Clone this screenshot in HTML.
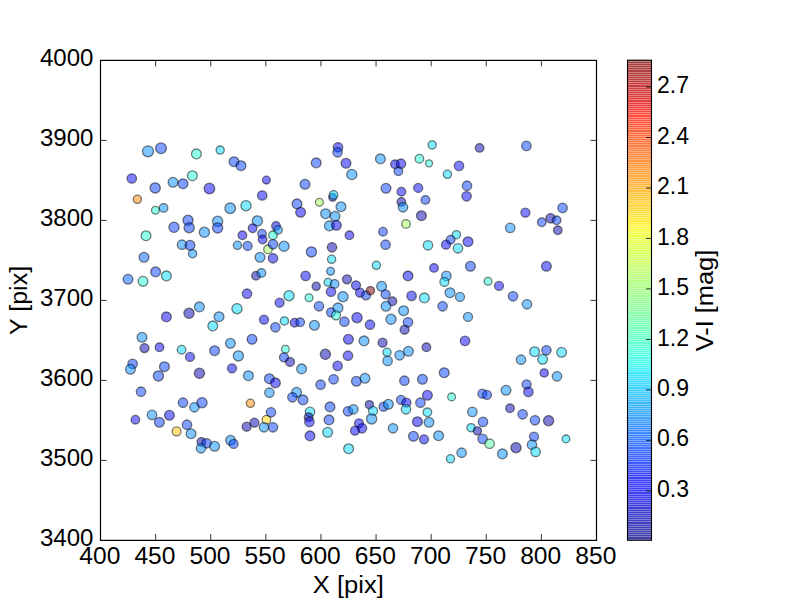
<!DOCTYPE html>
<html><head><meta charset="utf-8"><style>
html,body{margin:0;padding:0;background:#fff;width:800px;height:600px;overflow:hidden}
svg{display:block}
text{font-family:"Liberation Sans",sans-serif;font-size:23px;fill:#000}
</style></head><body>
<svg width="800" height="600" viewBox="0 0 800 600">
<defs>
<linearGradient id="jet" x1="0" y1="1" x2="0" y2="0">
<stop offset="0.00" stop-color="rgb(0, 0, 128)"/>
<stop offset="0.02" stop-color="rgb(0, 0, 151)"/>
<stop offset="0.04" stop-color="rgb(0, 0, 174)"/>
<stop offset="0.06" stop-color="rgb(0, 0, 197)"/>
<stop offset="0.08" stop-color="rgb(0, 0, 220)"/>
<stop offset="0.10" stop-color="rgb(0, 0, 243)"/>
<stop offset="0.12" stop-color="rgb(0, 0, 255)"/>
<stop offset="0.14" stop-color="rgb(0, 15, 255)"/>
<stop offset="0.16" stop-color="rgb(0, 36, 255)"/>
<stop offset="0.18" stop-color="rgb(0, 56, 255)"/>
<stop offset="0.20" stop-color="rgb(0, 77, 255)"/>
<stop offset="0.22" stop-color="rgb(0, 97, 255)"/>
<stop offset="0.24" stop-color="rgb(0, 117, 255)"/>
<stop offset="0.26" stop-color="rgb(0, 138, 255)"/>
<stop offset="0.28" stop-color="rgb(0, 158, 255)"/>
<stop offset="0.30" stop-color="rgb(0, 178, 255)"/>
<stop offset="0.32" stop-color="rgb(0, 199, 255)"/>
<stop offset="0.34" stop-color="rgb(0, 219, 255)"/>
<stop offset="0.36" stop-color="rgb(8, 240, 239)"/>
<stop offset="0.38" stop-color="rgb(25, 255, 222)"/>
<stop offset="0.40" stop-color="rgb(41, 255, 206)"/>
<stop offset="0.42" stop-color="rgb(58, 255, 189)"/>
<stop offset="0.44" stop-color="rgb(74, 255, 173)"/>
<stop offset="0.46" stop-color="rgb(90, 255, 156)"/>
<stop offset="0.48" stop-color="rgb(107, 255, 140)"/>
<stop offset="0.50" stop-color="rgb(123, 255, 123)"/>
<stop offset="0.52" stop-color="rgb(140, 255, 107)"/>
<stop offset="0.54" stop-color="rgb(156, 255, 90)"/>
<stop offset="0.56" stop-color="rgb(173, 255, 74)"/>
<stop offset="0.58" stop-color="rgb(189, 255, 58)"/>
<stop offset="0.60" stop-color="rgb(206, 255, 41)"/>
<stop offset="0.62" stop-color="rgb(222, 255, 25)"/>
<stop offset="0.64" stop-color="rgb(239, 255, 8)"/>
<stop offset="0.66" stop-color="rgb(255, 236, 0)"/>
<stop offset="0.68" stop-color="rgb(255, 217, 0)"/>
<stop offset="0.70" stop-color="rgb(255, 198, 0)"/>
<stop offset="0.72" stop-color="rgb(255, 179, 0)"/>
<stop offset="0.74" stop-color="rgb(255, 161, 0)"/>
<stop offset="0.76" stop-color="rgb(255, 142, 0)"/>
<stop offset="0.78" stop-color="rgb(255, 123, 0)"/>
<stop offset="0.80" stop-color="rgb(255, 104, 0)"/>
<stop offset="0.82" stop-color="rgb(255, 85, 0)"/>
<stop offset="0.84" stop-color="rgb(255, 66, 0)"/>
<stop offset="0.86" stop-color="rgb(255, 47, 0)"/>
<stop offset="0.88" stop-color="rgb(255, 28, 0)"/>
<stop offset="0.90" stop-color="rgb(243, 9, 0)"/>
<stop offset="0.92" stop-color="rgb(220, 0, 0)"/>
<stop offset="0.94" stop-color="rgb(197, 0, 0)"/>
<stop offset="0.96" stop-color="rgb(174, 0, 0)"/>
<stop offset="0.98" stop-color="rgb(151, 0, 0)"/>
<stop offset="1.00" stop-color="rgb(128, 0, 0)"/>
</linearGradient>
<pattern id="stripes" width="24" height="2.95" patternUnits="userSpaceOnUse" y="0">
<rect x="0" y="0" width="24" height="0.9" fill="#000" fill-opacity="0.10"/>
</pattern>
</defs>
<rect width="800" height="600" fill="#fff"/>
<g fill-opacity="0.5" stroke="#000" stroke-opacity="0.5" stroke-width="1.3">
<circle cx="148.0" cy="151.3" r="5.50" fill="rgb(0, 140, 255)"/>
<circle cx="161.0" cy="148.3" r="5.40" fill="rgb(0, 62, 255)"/>
<circle cx="196.4" cy="153.9" r="4.90" fill="rgb(34, 255, 213)"/>
<circle cx="220.2" cy="150.1" r="4.10" fill="rgb(0, 218, 255)"/>
<circle cx="234.0" cy="161.7" r="4.90" fill="rgb(0, 62, 255)"/>
<circle cx="241.0" cy="165.7" r="4.90" fill="rgb(0, 62, 255)"/>
<circle cx="131.8" cy="178.5" r="4.70" fill="rgb(0, 0, 249)"/>
<circle cx="266.4" cy="180.1" r="3.90" fill="rgb(0, 0, 249)"/>
<circle cx="192.4" cy="175.7" r="4.90" fill="rgb(34, 255, 213)"/>
<circle cx="173.0" cy="182.3" r="4.90" fill="rgb(0, 140, 255)"/>
<circle cx="183.0" cy="183.7" r="4.90" fill="rgb(0, 62, 255)"/>
<circle cx="155.2" cy="187.9" r="5.10" fill="rgb(0, 62, 255)"/>
<circle cx="209.4" cy="188.5" r="5.30" fill="rgb(0, 0, 249)"/>
<circle cx="262.2" cy="195.5" r="4.70" fill="rgb(0, 0, 249)"/>
<circle cx="137.4" cy="199.3" r="4.10" fill="rgb(255, 133, 0)"/>
<circle cx="155.4" cy="210.3" r="3.90" fill="rgb(34, 255, 213)"/>
<circle cx="163.6" cy="207.9" r="4.30" fill="rgb(0, 140, 255)"/>
<circle cx="230.2" cy="208.3" r="5.30" fill="rgb(0, 140, 255)"/>
<circle cx="246.0" cy="205.7" r="5.10" fill="rgb(0, 218, 255)"/>
<circle cx="188.0" cy="220.3" r="5.10" fill="rgb(0, 62, 255)"/>
<circle cx="189.2" cy="227.7" r="5.10" fill="rgb(0, 62, 255)"/>
<circle cx="174.0" cy="227.3" r="5.10" fill="rgb(0, 62, 255)"/>
<circle cx="204.4" cy="232.3" r="5.10" fill="rgb(0, 140, 255)"/>
<circle cx="217.6" cy="221.3" r="5.10" fill="rgb(0, 140, 255)"/>
<circle cx="217.6" cy="227.9" r="5.10" fill="rgb(0, 62, 255)"/>
<circle cx="257.4" cy="220.9" r="5.10" fill="rgb(0, 140, 255)"/>
<circle cx="252.6" cy="228.3" r="4.30" fill="rgb(0, 0, 249)"/>
<circle cx="242.4" cy="235.3" r="4.30" fill="rgb(0, 0, 249)"/>
<circle cx="262.0" cy="233.7" r="4.30" fill="rgb(0, 62, 255)"/>
<circle cx="146.0" cy="235.7" r="4.90" fill="rgb(34, 255, 213)"/>
<circle cx="338.0" cy="147.3" r="4.70" fill="rgb(0, 0, 249)"/>
<circle cx="337.6" cy="152.3" r="4.70" fill="rgb(0, 62, 255)"/>
<circle cx="316.2" cy="162.9" r="4.90" fill="rgb(0, 62, 255)"/>
<circle cx="346.0" cy="163.3" r="4.90" fill="rgb(0, 0, 249)"/>
<circle cx="351.8" cy="174.5" r="5.10" fill="rgb(0, 140, 255)"/>
<circle cx="305.0" cy="184.3" r="4.90" fill="rgb(0, 62, 255)"/>
<circle cx="380.4" cy="158.9" r="4.90" fill="rgb(0, 140, 255)"/>
<circle cx="395.0" cy="164.3" r="4.30" fill="rgb(0, 0, 249)"/>
<circle cx="401.0" cy="163.7" r="4.70" fill="rgb(0, 0, 249)"/>
<circle cx="398.4" cy="171.3" r="4.30" fill="rgb(0, 62, 255)"/>
<circle cx="419.4" cy="158.7" r="4.30" fill="rgb(34, 255, 213)"/>
<circle cx="386.0" cy="188.3" r="4.90" fill="rgb(0, 62, 255)"/>
<circle cx="401.4" cy="191.7" r="4.30" fill="rgb(0, 0, 249)"/>
<circle cx="418.2" cy="187.9" r="4.50" fill="rgb(0, 0, 249)"/>
<circle cx="401.4" cy="201.9" r="4.30" fill="rgb(0, 0, 176)"/>
<circle cx="403.0" cy="207.3" r="4.70" fill="rgb(0, 140, 255)"/>
<circle cx="421.4" cy="215.7" r="4.90" fill="rgb(0, 0, 176)"/>
<circle cx="406.0" cy="223.9" r="4.30" fill="rgb(158, 255, 89)"/>
<circle cx="383.0" cy="231.7" r="4.30" fill="rgb(0, 62, 255)"/>
<circle cx="349.4" cy="235.3" r="4.30" fill="rgb(0, 0, 249)"/>
<circle cx="332.6" cy="197.3" r="3.90" fill="rgb(0, 0, 176)"/>
<circle cx="333.6" cy="194.9" r="4.30" fill="rgb(0, 218, 255)"/>
<circle cx="319.4" cy="202.3" r="3.90" fill="rgb(158, 255, 89)"/>
<circle cx="297.0" cy="203.9" r="4.90" fill="rgb(0, 62, 255)"/>
<circle cx="300.6" cy="212.3" r="4.90" fill="rgb(0, 0, 249)"/>
<circle cx="341.0" cy="206.7" r="4.90" fill="rgb(0, 140, 255)"/>
<circle cx="325.6" cy="213.7" r="4.90" fill="rgb(0, 140, 255)"/>
<circle cx="335.0" cy="216.3" r="4.90" fill="rgb(0, 140, 255)"/>
<circle cx="329.4" cy="225.9" r="4.90" fill="rgb(0, 140, 255)"/>
<circle cx="336.4" cy="225.3" r="4.90" fill="rgb(0, 0, 249)"/>
<circle cx="276.0" cy="225.9" r="4.30" fill="rgb(0, 0, 249)"/>
<circle cx="278.0" cy="229.9" r="4.30" fill="rgb(0, 140, 255)"/>
<circle cx="273.0" cy="235.3" r="4.30" fill="rgb(34, 255, 213)"/>
<circle cx="432.2" cy="144.9" r="4.10" fill="rgb(0, 218, 255)"/>
<circle cx="479.6" cy="147.9" r="4.30" fill="rgb(0, 0, 176)"/>
<circle cx="526.4" cy="145.9" r="4.70" fill="rgb(0, 62, 255)"/>
<circle cx="429.0" cy="163.3" r="3.50" fill="rgb(34, 255, 213)"/>
<circle cx="459.0" cy="165.9" r="4.70" fill="rgb(0, 0, 249)"/>
<circle cx="447.4" cy="174.3" r="4.10" fill="rgb(0, 218, 255)"/>
<circle cx="467.0" cy="185.7" r="4.70" fill="rgb(0, 62, 255)"/>
<circle cx="466.6" cy="196.3" r="4.70" fill="rgb(0, 0, 249)"/>
<circle cx="425.4" cy="199.9" r="4.30" fill="rgb(0, 62, 255)"/>
<circle cx="525.4" cy="212.7" r="4.50" fill="rgb(0, 0, 249)"/>
<circle cx="562.6" cy="207.9" r="4.70" fill="rgb(0, 62, 255)"/>
<circle cx="510.2" cy="227.9" r="4.70" fill="rgb(0, 140, 255)"/>
<circle cx="541.8" cy="222.3" r="4.30" fill="rgb(0, 62, 255)"/>
<circle cx="550.6" cy="218.3" r="4.70" fill="rgb(0, 0, 176)"/>
<circle cx="556.6" cy="220.3" r="4.30" fill="rgb(0, 62, 255)"/>
<circle cx="557.8" cy="230.3" r="4.30" fill="rgb(0, 0, 176)"/>
<circle cx="456.4" cy="234.7" r="4.10" fill="rgb(0, 218, 255)"/>
<circle cx="262.6" cy="239.5" r="4.30" fill="rgb(0, 0, 249)"/>
<circle cx="182.0" cy="244.7" r="4.70" fill="rgb(0, 140, 255)"/>
<circle cx="190.0" cy="245.3" r="4.90" fill="rgb(0, 62, 255)"/>
<circle cx="192.6" cy="253.7" r="4.10" fill="rgb(0, 140, 255)"/>
<circle cx="237.4" cy="245.3" r="4.10" fill="rgb(0, 140, 255)"/>
<circle cx="247.6" cy="245.9" r="4.50" fill="rgb(0, 62, 255)"/>
<circle cx="268.0" cy="249.3" r="4.30" fill="rgb(158, 255, 89)"/>
<circle cx="260.0" cy="257.3" r="4.90" fill="rgb(0, 140, 255)"/>
<circle cx="144.0" cy="257.3" r="4.90" fill="rgb(0, 94, 255)"/>
<circle cx="155.6" cy="271.9" r="4.90" fill="rgb(0, 62, 255)"/>
<circle cx="166.4" cy="275.9" r="4.90" fill="rgb(0, 218, 255)"/>
<circle cx="128.0" cy="279.3" r="4.90" fill="rgb(0, 94, 255)"/>
<circle cx="143.0" cy="281.3" r="4.90" fill="rgb(34, 255, 213)"/>
<circle cx="256.0" cy="275.7" r="4.30" fill="rgb(0, 0, 176)"/>
<circle cx="261.4" cy="272.9" r="4.30" fill="rgb(0, 140, 255)"/>
<circle cx="247.0" cy="293.7" r="4.70" fill="rgb(0, 0, 249)"/>
<circle cx="199.4" cy="306.9" r="4.90" fill="rgb(0, 140, 255)"/>
<circle cx="189.0" cy="313.3" r="5.10" fill="rgb(0, 0, 176)"/>
<circle cx="166.4" cy="316.9" r="4.90" fill="rgb(0, 0, 249)"/>
<circle cx="219.0" cy="316.7" r="4.90" fill="rgb(0, 140, 255)"/>
<circle cx="212.8" cy="325.9" r="4.90" fill="rgb(0, 218, 255)"/>
<circle cx="237.0" cy="308.7" r="5.10" fill="rgb(0, 218, 255)"/>
<circle cx="264.0" cy="319.7" r="4.50" fill="rgb(0, 0, 249)"/>
<circle cx="142.0" cy="337.3" r="4.90" fill="rgb(0, 140, 255)"/>
<circle cx="230.4" cy="343.3" r="4.90" fill="rgb(0, 140, 255)"/>
<circle cx="252.0" cy="339.3" r="4.90" fill="rgb(0, 62, 255)"/>
<circle cx="273.0" cy="244.3" r="4.70" fill="rgb(0, 62, 255)"/>
<circle cx="273.0" cy="258.3" r="4.70" fill="rgb(0, 0, 249)"/>
<circle cx="284.0" cy="246.3" r="5.10" fill="rgb(0, 140, 255)"/>
<circle cx="311.4" cy="251.9" r="5.10" fill="rgb(0, 62, 255)"/>
<circle cx="332.0" cy="247.3" r="4.70" fill="rgb(0, 0, 176)"/>
<circle cx="331.6" cy="259.3" r="4.10" fill="rgb(0, 218, 255)"/>
<circle cx="330.6" cy="271.3" r="3.90" fill="rgb(0, 140, 255)"/>
<circle cx="385.6" cy="244.7" r="4.70" fill="rgb(0, 62, 255)"/>
<circle cx="376.4" cy="265.3" r="4.10" fill="rgb(0, 218, 255)"/>
<circle cx="408.0" cy="275.9" r="4.90" fill="rgb(0, 0, 249)"/>
<circle cx="305.6" cy="275.9" r="4.70" fill="rgb(0, 0, 249)"/>
<circle cx="316.2" cy="286.3" r="4.10" fill="rgb(0, 0, 176)"/>
<circle cx="328.0" cy="282.3" r="3.90" fill="rgb(0, 218, 255)"/>
<circle cx="334.6" cy="283.9" r="4.30" fill="rgb(0, 140, 255)"/>
<circle cx="331.0" cy="291.7" r="4.70" fill="rgb(0, 0, 249)"/>
<circle cx="347.0" cy="279.3" r="4.50" fill="rgb(0, 0, 176)"/>
<circle cx="356.0" cy="285.3" r="4.50" fill="rgb(0, 0, 249)"/>
<circle cx="360.0" cy="292.7" r="4.50" fill="rgb(0, 0, 249)"/>
<circle cx="366.0" cy="295.3" r="4.50" fill="rgb(0, 62, 255)"/>
<circle cx="370.4" cy="290.7" r="4.10" fill="rgb(128, 0, 0)"/>
<circle cx="381.6" cy="286.3" r="4.90" fill="rgb(0, 140, 255)"/>
<circle cx="385.6" cy="294.3" r="4.50" fill="rgb(0, 62, 255)"/>
<circle cx="392.4" cy="301.3" r="4.30" fill="rgb(0, 0, 176)"/>
<circle cx="411.6" cy="295.9" r="4.70" fill="rgb(0, 0, 249)"/>
<circle cx="289.0" cy="295.7" r="5.10" fill="rgb(0, 218, 255)"/>
<circle cx="309.0" cy="297.7" r="3.90" fill="rgb(34, 255, 213)"/>
<circle cx="279.6" cy="302.7" r="4.50" fill="rgb(0, 0, 249)"/>
<circle cx="319.0" cy="306.3" r="4.70" fill="rgb(0, 62, 255)"/>
<circle cx="343.0" cy="296.7" r="5.10" fill="rgb(0, 140, 255)"/>
<circle cx="331.0" cy="312.3" r="4.50" fill="rgb(0, 62, 255)"/>
<circle cx="338.0" cy="307.9" r="4.90" fill="rgb(0, 140, 255)"/>
<circle cx="336.0" cy="315.3" r="4.50" fill="rgb(34, 255, 213)"/>
<circle cx="344.4" cy="321.7" r="4.70" fill="rgb(0, 62, 255)"/>
<circle cx="357.0" cy="317.7" r="5.10" fill="rgb(0, 0, 249)"/>
<circle cx="386.0" cy="306.3" r="4.90" fill="rgb(0, 140, 255)"/>
<circle cx="403.6" cy="310.7" r="4.90" fill="rgb(0, 140, 255)"/>
<circle cx="391.0" cy="319.3" r="5.10" fill="rgb(0, 140, 255)"/>
<circle cx="408.0" cy="322.3" r="4.70" fill="rgb(0, 62, 255)"/>
<circle cx="404.6" cy="329.7" r="4.50" fill="rgb(0, 0, 176)"/>
<circle cx="370.0" cy="324.7" r="4.70" fill="rgb(0, 0, 249)"/>
<circle cx="275.4" cy="327.3" r="4.70" fill="rgb(0, 62, 255)"/>
<circle cx="284.4" cy="320.9" r="4.10" fill="rgb(0, 218, 255)"/>
<circle cx="294.6" cy="322.7" r="4.30" fill="rgb(0, 0, 249)"/>
<circle cx="300.2" cy="322.3" r="4.30" fill="rgb(0, 62, 255)"/>
<circle cx="314.4" cy="325.3" r="4.90" fill="rgb(0, 140, 255)"/>
<circle cx="348.4" cy="339.3" r="4.90" fill="rgb(0, 0, 249)"/>
<circle cx="364.0" cy="340.9" r="4.90" fill="rgb(0, 140, 255)"/>
<circle cx="382.6" cy="342.7" r="4.50" fill="rgb(0, 0, 176)"/>
<circle cx="450.6" cy="239.7" r="4.30" fill="rgb(0, 62, 255)"/>
<circle cx="446.0" cy="244.7" r="4.50" fill="rgb(0, 0, 249)"/>
<circle cx="458.0" cy="248.3" r="4.70" fill="rgb(0, 218, 255)"/>
<circle cx="468.0" cy="241.7" r="4.90" fill="rgb(0, 0, 249)"/>
<circle cx="428.0" cy="245.3" r="4.70" fill="rgb(0, 218, 255)"/>
<circle cx="434.0" cy="267.9" r="4.30" fill="rgb(0, 0, 249)"/>
<circle cx="470.4" cy="266.3" r="4.90" fill="rgb(0, 62, 255)"/>
<circle cx="546.4" cy="266.3" r="4.90" fill="rgb(0, 0, 249)"/>
<circle cx="446.4" cy="275.9" r="4.70" fill="rgb(0, 140, 255)"/>
<circle cx="444.4" cy="281.9" r="4.50" fill="rgb(0, 218, 255)"/>
<circle cx="488.0" cy="281.3" r="3.90" fill="rgb(34, 255, 213)"/>
<circle cx="499.0" cy="285.9" r="4.50" fill="rgb(0, 0, 249)"/>
<circle cx="513.0" cy="296.3" r="4.70" fill="rgb(0, 62, 255)"/>
<circle cx="527.0" cy="304.3" r="4.70" fill="rgb(0, 140, 255)"/>
<circle cx="424.4" cy="297.9" r="4.90" fill="rgb(0, 218, 255)"/>
<circle cx="450.0" cy="292.7" r="4.90" fill="rgb(0, 140, 255)"/>
<circle cx="460.0" cy="296.9" r="4.50" fill="rgb(0, 140, 255)"/>
<circle cx="442.6" cy="306.3" r="4.70" fill="rgb(0, 62, 255)"/>
<circle cx="468.0" cy="316.9" r="4.50" fill="rgb(0, 140, 255)"/>
<circle cx="465.0" cy="340.9" r="4.70" fill="rgb(0, 0, 249)"/>
<circle cx="181.6" cy="349.7" r="4.30" fill="rgb(0, 218, 255)"/>
<circle cx="190.0" cy="356.9" r="4.50" fill="rgb(0, 0, 249)"/>
<circle cx="214.6" cy="350.7" r="4.90" fill="rgb(0, 62, 255)"/>
<circle cx="238.4" cy="355.9" r="5.10" fill="rgb(0, 140, 255)"/>
<circle cx="132.6" cy="363.9" r="4.70" fill="rgb(0, 62, 255)"/>
<circle cx="130.4" cy="369.3" r="4.90" fill="rgb(0, 140, 255)"/>
<circle cx="164.4" cy="366.7" r="4.90" fill="rgb(0, 62, 255)"/>
<circle cx="158.4" cy="375.9" r="5.10" fill="rgb(0, 62, 255)"/>
<circle cx="199.4" cy="373.3" r="5.10" fill="rgb(0, 0, 176)"/>
<circle cx="232.0" cy="368.3" r="4.50" fill="rgb(0, 0, 249)"/>
<circle cx="248.4" cy="375.7" r="4.90" fill="rgb(0, 140, 255)"/>
<circle cx="269.4" cy="378.7" r="4.90" fill="rgb(0, 62, 255)"/>
<circle cx="269.4" cy="392.7" r="4.70" fill="rgb(0, 140, 255)"/>
<circle cx="141.0" cy="391.7" r="4.70" fill="rgb(0, 62, 255)"/>
<circle cx="183.0" cy="402.7" r="4.70" fill="rgb(0, 62, 255)"/>
<circle cx="194.4" cy="407.3" r="4.70" fill="rgb(0, 140, 255)"/>
<circle cx="202.0" cy="402.7" r="5.10" fill="rgb(0, 62, 255)"/>
<circle cx="250.4" cy="403.3" r="4.10" fill="rgb(255, 133, 0)"/>
<circle cx="135.4" cy="419.7" r="4.30" fill="rgb(0, 0, 249)"/>
<circle cx="152.0" cy="414.9" r="4.70" fill="rgb(0, 140, 255)"/>
<circle cx="159.4" cy="422.3" r="4.90" fill="rgb(0, 62, 255)"/>
<circle cx="169.4" cy="415.3" r="4.90" fill="rgb(0, 0, 249)"/>
<circle cx="176.6" cy="431.3" r="4.50" fill="rgb(255, 192, 0)"/>
<circle cx="187.0" cy="424.7" r="4.70" fill="rgb(0, 62, 255)"/>
<circle cx="191.0" cy="433.7" r="4.90" fill="rgb(0, 140, 255)"/>
<circle cx="201.4" cy="441.9" r="4.30" fill="rgb(0, 0, 176)"/>
<circle cx="206.6" cy="443.3" r="4.70" fill="rgb(0, 62, 255)"/>
<circle cx="201.0" cy="448.3" r="4.70" fill="rgb(0, 140, 255)"/>
<circle cx="214.6" cy="446.3" r="4.90" fill="rgb(0, 140, 255)"/>
<circle cx="230.6" cy="440.3" r="4.90" fill="rgb(0, 140, 255)"/>
<circle cx="233.6" cy="443.9" r="4.50" fill="rgb(0, 62, 255)"/>
<circle cx="246.6" cy="426.7" r="4.50" fill="rgb(0, 0, 176)"/>
<circle cx="254.4" cy="422.7" r="4.50" fill="rgb(0, 0, 176)"/>
<circle cx="266.4" cy="419.7" r="4.30" fill="rgb(255, 216, 0)"/>
<circle cx="264.0" cy="427.3" r="4.70" fill="rgb(0, 140, 255)"/>
<circle cx="285.4" cy="349.3" r="3.90" fill="rgb(34, 255, 213)"/>
<circle cx="284.0" cy="357.3" r="4.50" fill="rgb(0, 62, 255)"/>
<circle cx="290.0" cy="361.9" r="4.50" fill="rgb(0, 0, 176)"/>
<circle cx="301.6" cy="368.9" r="4.90" fill="rgb(0, 140, 255)"/>
<circle cx="325.4" cy="354.3" r="5.10" fill="rgb(0, 0, 176)"/>
<circle cx="348.0" cy="355.7" r="4.70" fill="rgb(0, 0, 249)"/>
<circle cx="337.6" cy="365.9" r="4.70" fill="rgb(0, 0, 249)"/>
<circle cx="387.0" cy="352.3" r="4.10" fill="rgb(0, 218, 255)"/>
<circle cx="387.6" cy="360.9" r="4.70" fill="rgb(0, 140, 255)"/>
<circle cx="399.6" cy="355.3" r="4.70" fill="rgb(0, 140, 255)"/>
<circle cx="408.4" cy="351.3" r="4.90" fill="rgb(0, 140, 255)"/>
<circle cx="275.4" cy="382.9" r="4.90" fill="rgb(0, 0, 249)"/>
<circle cx="320.6" cy="384.7" r="4.70" fill="rgb(0, 62, 255)"/>
<circle cx="333.6" cy="379.3" r="4.70" fill="rgb(0, 62, 255)"/>
<circle cx="356.4" cy="381.3" r="4.90" fill="rgb(0, 62, 255)"/>
<circle cx="365.0" cy="378.3" r="4.90" fill="rgb(0, 140, 255)"/>
<circle cx="404.4" cy="380.7" r="4.70" fill="rgb(0, 62, 255)"/>
<circle cx="296.6" cy="392.3" r="4.90" fill="rgb(0, 140, 255)"/>
<circle cx="292.4" cy="397.3" r="4.70" fill="rgb(0, 62, 255)"/>
<circle cx="303.0" cy="399.9" r="4.90" fill="rgb(0, 62, 255)"/>
<circle cx="330.0" cy="406.9" r="4.90" fill="rgb(0, 62, 255)"/>
<circle cx="310.0" cy="411.9" r="4.70" fill="rgb(0, 218, 255)"/>
<circle cx="308.6" cy="417.3" r="4.30" fill="rgb(0, 0, 176)"/>
<circle cx="309.4" cy="421.9" r="4.70" fill="rgb(0, 0, 249)"/>
<circle cx="329.0" cy="419.9" r="4.90" fill="rgb(0, 62, 255)"/>
<circle cx="327.6" cy="432.3" r="4.90" fill="rgb(0, 218, 255)"/>
<circle cx="310.0" cy="435.9" r="4.90" fill="rgb(0, 0, 249)"/>
<circle cx="273.0" cy="427.3" r="4.70" fill="rgb(0, 62, 255)"/>
<circle cx="348.0" cy="411.3" r="4.70" fill="rgb(0, 62, 255)"/>
<circle cx="353.4" cy="409.3" r="4.70" fill="rgb(0, 140, 255)"/>
<circle cx="369.4" cy="404.7" r="4.10" fill="rgb(0, 0, 176)"/>
<circle cx="373.0" cy="410.9" r="4.50" fill="rgb(0, 218, 255)"/>
<circle cx="371.6" cy="418.9" r="5.10" fill="rgb(0, 140, 255)"/>
<circle cx="383.6" cy="406.7" r="4.50" fill="rgb(0, 62, 255)"/>
<circle cx="388.4" cy="404.3" r="4.90" fill="rgb(0, 140, 255)"/>
<circle cx="401.0" cy="399.9" r="4.50" fill="rgb(0, 62, 255)"/>
<circle cx="406.4" cy="402.7" r="4.50" fill="rgb(0, 0, 249)"/>
<circle cx="406.0" cy="409.3" r="4.70" fill="rgb(0, 218, 255)"/>
<circle cx="420.4" cy="402.7" r="4.70" fill="rgb(0, 62, 255)"/>
<circle cx="359.0" cy="423.3" r="4.50" fill="rgb(0, 0, 249)"/>
<circle cx="362.0" cy="428.3" r="4.70" fill="rgb(0, 0, 249)"/>
<circle cx="355.0" cy="430.7" r="4.50" fill="rgb(0, 0, 249)"/>
<circle cx="393.0" cy="428.3" r="4.70" fill="rgb(0, 140, 255)"/>
<circle cx="417.4" cy="421.7" r="4.90" fill="rgb(0, 0, 249)"/>
<circle cx="413.4" cy="436.3" r="4.90" fill="rgb(0, 62, 255)"/>
<circle cx="348.6" cy="448.7" r="4.90" fill="rgb(0, 218, 255)"/>
<circle cx="426.4" cy="347.3" r="4.30" fill="rgb(0, 0, 176)"/>
<circle cx="444.2" cy="372.7" r="4.90" fill="rgb(0, 62, 255)"/>
<circle cx="422.4" cy="379.3" r="4.90" fill="rgb(0, 62, 255)"/>
<circle cx="427.4" cy="395.3" r="4.90" fill="rgb(0, 0, 249)"/>
<circle cx="451.6" cy="396.9" r="3.90" fill="rgb(34, 255, 213)"/>
<circle cx="427.4" cy="412.3" r="4.30" fill="rgb(0, 218, 255)"/>
<circle cx="429.0" cy="422.3" r="4.90" fill="rgb(0, 140, 255)"/>
<circle cx="424.0" cy="439.3" r="4.50" fill="rgb(0, 0, 249)"/>
<circle cx="438.6" cy="435.7" r="4.90" fill="rgb(0, 140, 255)"/>
<circle cx="461.6" cy="452.7" r="4.70" fill="rgb(0, 140, 255)"/>
<circle cx="482.4" cy="393.7" r="4.50" fill="rgb(0, 62, 255)"/>
<circle cx="487.0" cy="394.9" r="4.50" fill="rgb(0, 62, 255)"/>
<circle cx="506.0" cy="390.3" r="4.90" fill="rgb(0, 140, 255)"/>
<circle cx="472.4" cy="411.9" r="4.70" fill="rgb(0, 140, 255)"/>
<circle cx="483.0" cy="421.9" r="4.70" fill="rgb(0, 62, 255)"/>
<circle cx="471.0" cy="427.7" r="4.10" fill="rgb(0, 218, 255)"/>
<circle cx="477.4" cy="430.9" r="4.10" fill="rgb(0, 0, 176)"/>
<circle cx="482.6" cy="438.9" r="4.70" fill="rgb(0, 62, 255)"/>
<circle cx="489.6" cy="443.7" r="4.70" fill="rgb(86, 255, 161)"/>
<circle cx="502.4" cy="453.9" r="4.90" fill="rgb(0, 140, 255)"/>
<circle cx="510.0" cy="408.3" r="4.30" fill="rgb(0, 0, 176)"/>
<circle cx="522.6" cy="414.3" r="4.70" fill="rgb(0, 62, 255)"/>
<circle cx="526.6" cy="384.3" r="4.50" fill="rgb(0, 62, 255)"/>
<circle cx="528.4" cy="391.9" r="4.70" fill="rgb(0, 0, 249)"/>
<circle cx="521.0" cy="359.7" r="4.70" fill="rgb(0, 140, 255)"/>
<circle cx="534.6" cy="351.7" r="4.90" fill="rgb(0, 218, 255)"/>
<circle cx="546.4" cy="350.3" r="4.70" fill="rgb(0, 62, 255)"/>
<circle cx="542.6" cy="359.3" r="4.90" fill="rgb(0, 218, 255)"/>
<circle cx="561.6" cy="352.3" r="4.90" fill="rgb(0, 218, 255)"/>
<circle cx="544.2" cy="372.9" r="4.10" fill="rgb(0, 0, 249)"/>
<circle cx="557.0" cy="376.3" r="4.70" fill="rgb(0, 140, 255)"/>
<circle cx="535.0" cy="420.3" r="4.70" fill="rgb(0, 62, 255)"/>
<circle cx="548.6" cy="420.7" r="5.10" fill="rgb(0, 0, 176)"/>
<circle cx="534.0" cy="436.7" r="4.50" fill="rgb(0, 62, 255)"/>
<circle cx="532.0" cy="444.7" r="4.70" fill="rgb(0, 140, 255)"/>
<circle cx="535.6" cy="451.9" r="4.70" fill="rgb(0, 218, 255)"/>
<circle cx="516.0" cy="447.7" r="5.10" fill="rgb(0, 0, 176)"/>
<circle cx="566.0" cy="438.9" r="3.90" fill="rgb(0, 218, 255)"/>
<circle cx="450.5" cy="458.8" r="4.10" fill="rgb(0, 218, 255)"/>
<circle cx="144.5" cy="348.1" r="4.50" fill="rgb(0, 0, 176)"/>
<circle cx="159.5" cy="347.3" r="4.30" fill="rgb(0, 0, 249)"/>
<circle cx="271.0" cy="412.3" r="4.70" fill="rgb(0, 62, 255)"/>
</g>
<g stroke="#000" stroke-width="1.2" fill="none">
<rect x="100.5" y="60.4" width="496" height="480"/>
</g>
<g stroke="#000" stroke-width="0.8" fill="none"><line x1="155.61" y1="540" x2="155.61" y2="534"/><line x1="155.61" y1="60.4" x2="155.61" y2="66.4"/><line x1="210.72" y1="540" x2="210.72" y2="534"/><line x1="210.72" y1="60.4" x2="210.72" y2="66.4"/><line x1="265.83" y1="540" x2="265.83" y2="534"/><line x1="265.83" y1="60.4" x2="265.83" y2="66.4"/><line x1="320.94" y1="540" x2="320.94" y2="534"/><line x1="320.94" y1="60.4" x2="320.94" y2="66.4"/><line x1="376.06" y1="540" x2="376.06" y2="534"/><line x1="376.06" y1="60.4" x2="376.06" y2="66.4"/><line x1="431.17" y1="540" x2="431.17" y2="534"/><line x1="431.17" y1="60.4" x2="431.17" y2="66.4"/><line x1="486.28" y1="540" x2="486.28" y2="534"/><line x1="486.28" y1="60.4" x2="486.28" y2="66.4"/><line x1="541.39" y1="540" x2="541.39" y2="534"/><line x1="541.39" y1="60.4" x2="541.39" y2="66.4"/><line x1="100.5" y1="460.40" x2="106.5" y2="460.40"/><line x1="596.5" y1="460.40" x2="590.5" y2="460.40"/><line x1="100.5" y1="380.40" x2="106.5" y2="380.40"/><line x1="596.5" y1="380.40" x2="590.5" y2="380.40"/><line x1="100.5" y1="300.40" x2="106.5" y2="300.40"/><line x1="596.5" y1="300.40" x2="590.5" y2="300.40"/><line x1="100.5" y1="220.40" x2="106.5" y2="220.40"/><line x1="596.5" y1="220.40" x2="590.5" y2="220.40"/><line x1="100.5" y1="140.40" x2="106.5" y2="140.40"/><line x1="596.5" y1="140.40" x2="590.5" y2="140.40"/></g>
<g fill-opacity="0.5" shape-rendering="crispEdges"><rect x="627" y="538" width="25" height="2" fill="rgb(0, 0, 128)"/><rect x="627" y="537" width="25" height="2" fill="rgb(0, 0, 132)"/><rect x="627" y="535" width="25" height="3" fill="rgb(0, 0, 137)"/><rect x="627" y="533" width="25" height="3" fill="rgb(0, 0, 141)"/><rect x="627" y="531" width="25" height="3" fill="rgb(0, 0, 146)"/><rect x="627" y="529" width="25" height="3" fill="rgb(0, 0, 150)"/><rect x="627" y="527" width="25" height="3" fill="rgb(0, 0, 155)"/><rect x="627" y="525" width="25" height="3" fill="rgb(0, 0, 159)"/><rect x="627" y="523" width="25" height="3" fill="rgb(0, 0, 164)"/><rect x="627" y="522" width="25" height="2" fill="rgb(0, 0, 168)"/><rect x="627" y="520" width="25" height="3" fill="rgb(0, 0, 173)"/><rect x="627" y="518" width="25" height="3" fill="rgb(0, 0, 178)"/><rect x="627" y="516" width="25" height="3" fill="rgb(0, 0, 182)"/><rect x="627" y="514" width="25" height="3" fill="rgb(0, 0, 187)"/><rect x="627" y="512" width="25" height="3" fill="rgb(0, 0, 191)"/><rect x="627" y="510" width="25" height="3" fill="rgb(0, 0, 196)"/><rect x="627" y="508" width="25" height="3" fill="rgb(0, 0, 200)"/><rect x="627" y="507" width="25" height="2" fill="rgb(0, 0, 205)"/><rect x="627" y="505" width="25" height="3" fill="rgb(0, 0, 209)"/><rect x="627" y="503" width="25" height="3" fill="rgb(0, 0, 214)"/><rect x="627" y="501" width="25" height="3" fill="rgb(0, 0, 218)"/><rect x="627" y="499" width="25" height="3" fill="rgb(0, 0, 223)"/><rect x="627" y="497" width="25" height="3" fill="rgb(0, 0, 227)"/><rect x="627" y="495" width="25" height="3" fill="rgb(0, 0, 232)"/><rect x="627" y="493" width="25" height="3" fill="rgb(0, 0, 237)"/><rect x="627" y="492" width="25" height="2" fill="rgb(0, 0, 241)"/><rect x="627" y="490" width="25" height="3" fill="rgb(0, 0, 246)"/><rect x="627" y="488" width="25" height="3" fill="rgb(0, 0, 250)"/><rect x="627" y="486" width="25" height="3" fill="rgb(0, 0, 255)"/><rect x="627" y="484" width="25" height="3" fill="rgb(0, 0, 255)"/><rect x="627" y="482" width="25" height="3" fill="rgb(0, 0, 255)"/><rect x="627" y="480" width="25" height="3" fill="rgb(0, 0, 255)"/><rect x="627" y="478" width="25" height="3" fill="rgb(0, 0, 255)"/><rect x="627" y="477" width="25" height="2" fill="rgb(0, 5, 255)"/><rect x="627" y="475" width="25" height="3" fill="rgb(0, 8, 255)"/><rect x="627" y="473" width="25" height="3" fill="rgb(0, 13, 255)"/><rect x="627" y="471" width="25" height="3" fill="rgb(0, 16, 255)"/><rect x="627" y="469" width="25" height="3" fill="rgb(0, 21, 255)"/><rect x="627" y="467" width="25" height="3" fill="rgb(0, 24, 255)"/><rect x="627" y="465" width="25" height="3" fill="rgb(0, 29, 255)"/><rect x="627" y="463" width="25" height="3" fill="rgb(0, 32, 255)"/><rect x="627" y="462" width="25" height="2" fill="rgb(0, 37, 255)"/><rect x="627" y="460" width="25" height="3" fill="rgb(0, 40, 255)"/><rect x="627" y="458" width="25" height="3" fill="rgb(0, 45, 255)"/><rect x="627" y="456" width="25" height="3" fill="rgb(0, 48, 255)"/><rect x="627" y="454" width="25" height="3" fill="rgb(0, 53, 255)"/><rect x="627" y="452" width="25" height="3" fill="rgb(0, 56, 255)"/><rect x="627" y="450" width="25" height="3" fill="rgb(0, 61, 255)"/><rect x="627" y="448" width="25" height="3" fill="rgb(0, 64, 255)"/><rect x="627" y="447" width="25" height="2" fill="rgb(0, 69, 255)"/><rect x="627" y="445" width="25" height="3" fill="rgb(0, 72, 255)"/><rect x="627" y="443" width="25" height="3" fill="rgb(0, 77, 255)"/><rect x="627" y="441" width="25" height="3" fill="rgb(0, 80, 255)"/><rect x="627" y="439" width="25" height="3" fill="rgb(0, 85, 255)"/><rect x="627" y="437" width="25" height="3" fill="rgb(0, 88, 255)"/><rect x="627" y="435" width="25" height="3" fill="rgb(0, 93, 255)"/><rect x="627" y="433" width="25" height="3" fill="rgb(0, 96, 255)"/><rect x="627" y="432" width="25" height="2" fill="rgb(0, 101, 255)"/><rect x="627" y="430" width="25" height="3" fill="rgb(0, 104, 255)"/><rect x="627" y="428" width="25" height="3" fill="rgb(0, 109, 255)"/><rect x="627" y="426" width="25" height="3" fill="rgb(0, 112, 255)"/><rect x="627" y="424" width="25" height="3" fill="rgb(0, 117, 255)"/><rect x="627" y="422" width="25" height="3" fill="rgb(0, 120, 255)"/><rect x="627" y="420" width="25" height="3" fill="rgb(0, 125, 255)"/><rect x="627" y="418" width="25" height="3" fill="rgb(0, 128, 255)"/><rect x="627" y="417" width="25" height="2" fill="rgb(0, 132, 255)"/><rect x="627" y="415" width="25" height="3" fill="rgb(0, 137, 255)"/><rect x="627" y="413" width="25" height="3" fill="rgb(0, 140, 255)"/><rect x="627" y="411" width="25" height="3" fill="rgb(0, 144, 255)"/><rect x="627" y="409" width="25" height="3" fill="rgb(0, 148, 255)"/><rect x="627" y="407" width="25" height="3" fill="rgb(0, 153, 255)"/><rect x="627" y="405" width="25" height="3" fill="rgb(0, 156, 255)"/><rect x="627" y="403" width="25" height="3" fill="rgb(0, 160, 255)"/><rect x="627" y="402" width="25" height="2" fill="rgb(0, 164, 255)"/><rect x="627" y="400" width="25" height="3" fill="rgb(0, 169, 255)"/><rect x="627" y="398" width="25" height="3" fill="rgb(0, 172, 255)"/><rect x="627" y="396" width="25" height="3" fill="rgb(0, 176, 255)"/><rect x="627" y="394" width="25" height="3" fill="rgb(0, 180, 255)"/><rect x="627" y="392" width="25" height="3" fill="rgb(0, 185, 255)"/><rect x="627" y="390" width="25" height="3" fill="rgb(0, 188, 255)"/><rect x="627" y="388" width="25" height="3" fill="rgb(0, 192, 255)"/><rect x="627" y="387" width="25" height="2" fill="rgb(0, 196, 255)"/><rect x="627" y="385" width="25" height="3" fill="rgb(0, 201, 255)"/><rect x="627" y="383" width="25" height="3" fill="rgb(0, 204, 255)"/><rect x="627" y="381" width="25" height="3" fill="rgb(0, 208, 255)"/><rect x="627" y="379" width="25" height="3" fill="rgb(0, 212, 255)"/><rect x="627" y="377" width="25" height="3" fill="rgb(0, 217, 255)"/><rect x="627" y="375" width="25" height="3" fill="rgb(0, 220, 254)"/><rect x="627" y="373" width="25" height="3" fill="rgb(0, 224, 251)"/><rect x="627" y="372" width="25" height="2" fill="rgb(0, 228, 248)"/><rect x="627" y="370" width="25" height="3" fill="rgb(2, 233, 244)"/><rect x="627" y="368" width="25" height="3" fill="rgb(6, 236, 241)"/><rect x="627" y="366" width="25" height="3" fill="rgb(9, 240, 238)"/><rect x="627" y="364" width="25" height="3" fill="rgb(12, 244, 235)"/><rect x="627" y="362" width="25" height="3" fill="rgb(15, 249, 231)"/><rect x="627" y="360" width="25" height="3" fill="rgb(19, 252, 228)"/><rect x="627" y="358" width="25" height="3" fill="rgb(22, 255, 225)"/><rect x="627" y="357" width="25" height="2" fill="rgb(25, 255, 222)"/><rect x="627" y="355" width="25" height="3" fill="rgb(28, 255, 219)"/><rect x="627" y="353" width="25" height="3" fill="rgb(31, 255, 215)"/><rect x="627" y="351" width="25" height="3" fill="rgb(35, 255, 212)"/><rect x="627" y="349" width="25" height="3" fill="rgb(38, 255, 209)"/><rect x="627" y="347" width="25" height="3" fill="rgb(41, 255, 206)"/><rect x="627" y="345" width="25" height="3" fill="rgb(44, 255, 202)"/><rect x="627" y="343" width="25" height="3" fill="rgb(48, 255, 199)"/><rect x="627" y="342" width="25" height="2" fill="rgb(51, 255, 196)"/><rect x="627" y="340" width="25" height="3" fill="rgb(54, 255, 193)"/><rect x="627" y="338" width="25" height="3" fill="rgb(57, 255, 190)"/><rect x="627" y="336" width="25" height="3" fill="rgb(60, 255, 186)"/><rect x="627" y="334" width="25" height="3" fill="rgb(64, 255, 183)"/><rect x="627" y="332" width="25" height="3" fill="rgb(67, 255, 180)"/><rect x="627" y="330" width="25" height="3" fill="rgb(70, 255, 177)"/><rect x="627" y="328" width="25" height="3" fill="rgb(73, 255, 173)"/><rect x="627" y="327" width="25" height="2" fill="rgb(77, 255, 170)"/><rect x="627" y="325" width="25" height="3" fill="rgb(80, 255, 167)"/><rect x="627" y="323" width="25" height="3" fill="rgb(83, 255, 164)"/><rect x="627" y="321" width="25" height="3" fill="rgb(86, 255, 160)"/><rect x="627" y="319" width="25" height="3" fill="rgb(90, 255, 157)"/><rect x="627" y="317" width="25" height="3" fill="rgb(93, 255, 154)"/><rect x="627" y="315" width="25" height="3" fill="rgb(96, 255, 151)"/><rect x="627" y="313" width="25" height="3" fill="rgb(99, 255, 148)"/><rect x="627" y="312" width="25" height="2" fill="rgb(102, 255, 144)"/><rect x="627" y="310" width="25" height="3" fill="rgb(106, 255, 141)"/><rect x="627" y="308" width="25" height="3" fill="rgb(109, 255, 138)"/><rect x="627" y="306" width="25" height="3" fill="rgb(112, 255, 135)"/><rect x="627" y="304" width="25" height="3" fill="rgb(115, 255, 131)"/><rect x="627" y="302" width="25" height="3" fill="rgb(119, 255, 128)"/><rect x="627" y="300" width="25" height="3" fill="rgb(122, 255, 125)"/><rect x="627" y="298" width="25" height="3" fill="rgb(125, 255, 122)"/><rect x="627" y="296" width="25" height="3" fill="rgb(128, 255, 119)"/><rect x="627" y="295" width="25" height="2" fill="rgb(131, 255, 115)"/><rect x="627" y="293" width="25" height="3" fill="rgb(135, 255, 112)"/><rect x="627" y="291" width="25" height="3" fill="rgb(138, 255, 109)"/><rect x="627" y="289" width="25" height="3" fill="rgb(141, 255, 106)"/><rect x="627" y="287" width="25" height="3" fill="rgb(144, 255, 102)"/><rect x="627" y="285" width="25" height="3" fill="rgb(148, 255, 99)"/><rect x="627" y="283" width="25" height="3" fill="rgb(151, 255, 96)"/><rect x="627" y="281" width="25" height="3" fill="rgb(154, 255, 93)"/><rect x="627" y="280" width="25" height="2" fill="rgb(157, 255, 90)"/><rect x="627" y="278" width="25" height="3" fill="rgb(160, 255, 86)"/><rect x="627" y="276" width="25" height="3" fill="rgb(164, 255, 83)"/><rect x="627" y="274" width="25" height="3" fill="rgb(167, 255, 80)"/><rect x="627" y="272" width="25" height="3" fill="rgb(170, 255, 77)"/><rect x="627" y="270" width="25" height="3" fill="rgb(173, 255, 73)"/><rect x="627" y="268" width="25" height="3" fill="rgb(177, 255, 70)"/><rect x="627" y="266" width="25" height="3" fill="rgb(180, 255, 67)"/><rect x="627" y="265" width="25" height="2" fill="rgb(183, 255, 64)"/><rect x="627" y="263" width="25" height="3" fill="rgb(186, 255, 60)"/><rect x="627" y="261" width="25" height="3" fill="rgb(190, 255, 57)"/><rect x="627" y="259" width="25" height="3" fill="rgb(193, 255, 54)"/><rect x="627" y="257" width="25" height="3" fill="rgb(196, 255, 51)"/><rect x="627" y="255" width="25" height="3" fill="rgb(199, 255, 48)"/><rect x="627" y="253" width="25" height="3" fill="rgb(202, 255, 44)"/><rect x="627" y="251" width="25" height="3" fill="rgb(206, 255, 41)"/><rect x="627" y="250" width="25" height="2" fill="rgb(209, 255, 38)"/><rect x="627" y="248" width="25" height="3" fill="rgb(212, 255, 35)"/><rect x="627" y="246" width="25" height="3" fill="rgb(215, 255, 31)"/><rect x="627" y="244" width="25" height="3" fill="rgb(219, 255, 28)"/><rect x="627" y="242" width="25" height="3" fill="rgb(222, 255, 25)"/><rect x="627" y="240" width="25" height="3" fill="rgb(225, 255, 22)"/><rect x="627" y="238" width="25" height="3" fill="rgb(228, 255, 19)"/><rect x="627" y="236" width="25" height="3" fill="rgb(231, 255, 15)"/><rect x="627" y="235" width="25" height="2" fill="rgb(235, 255, 12)"/><rect x="627" y="233" width="25" height="3" fill="rgb(238, 255, 9)"/><rect x="627" y="231" width="25" height="3" fill="rgb(241, 252, 6)"/><rect x="627" y="229" width="25" height="3" fill="rgb(244, 248, 2)"/><rect x="627" y="227" width="25" height="3" fill="rgb(248, 245, 0)"/><rect x="627" y="225" width="25" height="3" fill="rgb(251, 241, 0)"/><rect x="627" y="223" width="25" height="3" fill="rgb(254, 237, 0)"/><rect x="627" y="221" width="25" height="3" fill="rgb(255, 234, 0)"/><rect x="627" y="220" width="25" height="2" fill="rgb(255, 230, 0)"/><rect x="627" y="218" width="25" height="3" fill="rgb(255, 226, 0)"/><rect x="627" y="216" width="25" height="3" fill="rgb(255, 222, 0)"/><rect x="627" y="214" width="25" height="3" fill="rgb(255, 219, 0)"/><rect x="627" y="212" width="25" height="3" fill="rgb(255, 215, 0)"/><rect x="627" y="210" width="25" height="3" fill="rgb(255, 211, 0)"/><rect x="627" y="208" width="25" height="3" fill="rgb(255, 208, 0)"/><rect x="627" y="206" width="25" height="3" fill="rgb(255, 204, 0)"/><rect x="627" y="205" width="25" height="2" fill="rgb(255, 200, 0)"/><rect x="627" y="203" width="25" height="3" fill="rgb(255, 196, 0)"/><rect x="627" y="201" width="25" height="3" fill="rgb(255, 193, 0)"/><rect x="627" y="199" width="25" height="3" fill="rgb(255, 189, 0)"/><rect x="627" y="197" width="25" height="3" fill="rgb(255, 185, 0)"/><rect x="627" y="195" width="25" height="3" fill="rgb(255, 182, 0)"/><rect x="627" y="193" width="25" height="3" fill="rgb(255, 178, 0)"/><rect x="627" y="191" width="25" height="3" fill="rgb(255, 174, 0)"/><rect x="627" y="190" width="25" height="2" fill="rgb(255, 171, 0)"/><rect x="627" y="188" width="25" height="3" fill="rgb(255, 167, 0)"/><rect x="627" y="186" width="25" height="3" fill="rgb(255, 163, 0)"/><rect x="627" y="184" width="25" height="3" fill="rgb(255, 159, 0)"/><rect x="627" y="182" width="25" height="3" fill="rgb(255, 156, 0)"/><rect x="627" y="180" width="25" height="3" fill="rgb(255, 152, 0)"/><rect x="627" y="178" width="25" height="3" fill="rgb(255, 148, 0)"/><rect x="627" y="176" width="25" height="3" fill="rgb(255, 145, 0)"/><rect x="627" y="175" width="25" height="2" fill="rgb(255, 141, 0)"/><rect x="627" y="173" width="25" height="3" fill="rgb(255, 137, 0)"/><rect x="627" y="171" width="25" height="3" fill="rgb(255, 134, 0)"/><rect x="627" y="169" width="25" height="3" fill="rgb(255, 130, 0)"/><rect x="627" y="167" width="25" height="3" fill="rgb(255, 126, 0)"/><rect x="627" y="165" width="25" height="3" fill="rgb(255, 122, 0)"/><rect x="627" y="163" width="25" height="3" fill="rgb(255, 119, 0)"/><rect x="627" y="161" width="25" height="3" fill="rgb(255, 115, 0)"/><rect x="627" y="160" width="25" height="2" fill="rgb(255, 111, 0)"/><rect x="627" y="158" width="25" height="3" fill="rgb(255, 108, 0)"/><rect x="627" y="156" width="25" height="3" fill="rgb(255, 104, 0)"/><rect x="627" y="154" width="25" height="3" fill="rgb(255, 100, 0)"/><rect x="627" y="152" width="25" height="3" fill="rgb(255, 96, 0)"/><rect x="627" y="150" width="25" height="3" fill="rgb(255, 93, 0)"/><rect x="627" y="148" width="25" height="3" fill="rgb(255, 89, 0)"/><rect x="627" y="146" width="25" height="3" fill="rgb(255, 85, 0)"/><rect x="627" y="145" width="25" height="2" fill="rgb(255, 82, 0)"/><rect x="627" y="143" width="25" height="3" fill="rgb(255, 78, 0)"/><rect x="627" y="141" width="25" height="3" fill="rgb(255, 74, 0)"/><rect x="627" y="139" width="25" height="3" fill="rgb(255, 71, 0)"/><rect x="627" y="137" width="25" height="3" fill="rgb(255, 67, 0)"/><rect x="627" y="135" width="25" height="3" fill="rgb(255, 63, 0)"/><rect x="627" y="133" width="25" height="3" fill="rgb(255, 59, 0)"/><rect x="627" y="131" width="25" height="3" fill="rgb(255, 56, 0)"/><rect x="627" y="130" width="25" height="2" fill="rgb(255, 52, 0)"/><rect x="627" y="128" width="25" height="3" fill="rgb(255, 48, 0)"/><rect x="627" y="126" width="25" height="3" fill="rgb(255, 45, 0)"/><rect x="627" y="124" width="25" height="3" fill="rgb(255, 41, 0)"/><rect x="627" y="122" width="25" height="3" fill="rgb(255, 37, 0)"/><rect x="627" y="120" width="25" height="3" fill="rgb(255, 34, 0)"/><rect x="627" y="118" width="25" height="3" fill="rgb(255, 30, 0)"/><rect x="627" y="116" width="25" height="3" fill="rgb(255, 26, 0)"/><rect x="627" y="115" width="25" height="2" fill="rgb(255, 22, 0)"/><rect x="627" y="113" width="25" height="3" fill="rgb(255, 19, 0)"/><rect x="627" y="111" width="25" height="3" fill="rgb(250, 15, 0)"/><rect x="627" y="109" width="25" height="3" fill="rgb(246, 11, 0)"/><rect x="627" y="107" width="25" height="3" fill="rgb(241, 8, 0)"/><rect x="627" y="105" width="25" height="3" fill="rgb(237, 4, 0)"/><rect x="627" y="103" width="25" height="3" fill="rgb(232, 0, 0)"/><rect x="627" y="101" width="25" height="3" fill="rgb(228, 0, 0)"/><rect x="627" y="100" width="25" height="2" fill="rgb(223, 0, 0)"/><rect x="627" y="98" width="25" height="3" fill="rgb(218, 0, 0)"/><rect x="627" y="96" width="25" height="3" fill="rgb(214, 0, 0)"/><rect x="627" y="94" width="25" height="3" fill="rgb(209, 0, 0)"/><rect x="627" y="92" width="25" height="3" fill="rgb(205, 0, 0)"/><rect x="627" y="90" width="25" height="3" fill="rgb(200, 0, 0)"/><rect x="627" y="88" width="25" height="3" fill="rgb(196, 0, 0)"/><rect x="627" y="86" width="25" height="3" fill="rgb(191, 0, 0)"/><rect x="627" y="85" width="25" height="2" fill="rgb(187, 0, 0)"/><rect x="627" y="83" width="25" height="3" fill="rgb(182, 0, 0)"/><rect x="627" y="81" width="25" height="3" fill="rgb(177, 0, 0)"/><rect x="627" y="79" width="25" height="3" fill="rgb(173, 0, 0)"/><rect x="627" y="77" width="25" height="3" fill="rgb(168, 0, 0)"/><rect x="627" y="75" width="25" height="3" fill="rgb(164, 0, 0)"/><rect x="627" y="73" width="25" height="3" fill="rgb(159, 0, 0)"/><rect x="627" y="71" width="25" height="3" fill="rgb(155, 0, 0)"/><rect x="627" y="70" width="25" height="2" fill="rgb(150, 0, 0)"/><rect x="627" y="68" width="25" height="3" fill="rgb(146, 0, 0)"/><rect x="627" y="66" width="25" height="3" fill="rgb(141, 0, 0)"/><rect x="627" y="64" width="25" height="3" fill="rgb(137, 0, 0)"/><rect x="627" y="62" width="25" height="3" fill="rgb(132, 0, 0)"/><rect x="627" y="60" width="25" height="3" fill="rgb(128, 0, 0)"/></g>
<g stroke="#000" stroke-width="1.1" fill="none">
<rect x="627.5" y="60.2" width="24" height="480.1"/>
</g>
<g stroke="#000" stroke-width="0.8" fill="none"><line x1="651.5" y1="490.82" x2="646" y2="490.82"/><line x1="651.5" y1="440.35" x2="646" y2="440.35"/><line x1="651.5" y1="389.87" x2="646" y2="389.87"/><line x1="651.5" y1="339.40" x2="646" y2="339.40"/><line x1="651.5" y1="288.92" x2="646" y2="288.92"/><line x1="651.5" y1="238.45" x2="646" y2="238.45"/><line x1="651.5" y1="187.97" x2="646" y2="187.97"/><line x1="651.5" y1="137.50" x2="646" y2="137.50"/><line x1="651.5" y1="87.02" x2="646" y2="87.02"/></g>
<text x="99.80" y="564" text-anchor="middle" textLength="41" lengthAdjust="spacingAndGlyphs">400</text><text x="154.91" y="564" text-anchor="middle" textLength="41" lengthAdjust="spacingAndGlyphs">450</text><text x="210.02" y="564" text-anchor="middle" textLength="41" lengthAdjust="spacingAndGlyphs">500</text><text x="265.13" y="564" text-anchor="middle" textLength="41" lengthAdjust="spacingAndGlyphs">550</text><text x="320.24" y="564" text-anchor="middle" textLength="41" lengthAdjust="spacingAndGlyphs">600</text><text x="375.36" y="564" text-anchor="middle" textLength="41" lengthAdjust="spacingAndGlyphs">650</text><text x="430.47" y="564" text-anchor="middle" textLength="41" lengthAdjust="spacingAndGlyphs">700</text><text x="485.58" y="564" text-anchor="middle" textLength="41" lengthAdjust="spacingAndGlyphs">750</text><text x="540.69" y="564" text-anchor="middle" textLength="41" lengthAdjust="spacingAndGlyphs">800</text><text x="595.80" y="564" text-anchor="middle" textLength="41" lengthAdjust="spacingAndGlyphs">850</text><text x="93.5" y="546.30" text-anchor="end" textLength="53.5" lengthAdjust="spacingAndGlyphs">3400</text><text x="93.5" y="466.30" text-anchor="end" textLength="53.5" lengthAdjust="spacingAndGlyphs">3500</text><text x="93.5" y="386.30" text-anchor="end" textLength="53.5" lengthAdjust="spacingAndGlyphs">3600</text><text x="93.5" y="306.30" text-anchor="end" textLength="53.5" lengthAdjust="spacingAndGlyphs">3700</text><text x="93.5" y="226.30" text-anchor="end" textLength="53.5" lengthAdjust="spacingAndGlyphs">3800</text><text x="93.5" y="146.30" text-anchor="end" textLength="53.5" lengthAdjust="spacingAndGlyphs">3900</text><text x="93.5" y="66.30" text-anchor="end" textLength="53.5" lengthAdjust="spacingAndGlyphs">4000</text><text x="657" y="496.92" textLength="32" lengthAdjust="spacingAndGlyphs">0.3</text><text x="657" y="446.45" textLength="32" lengthAdjust="spacingAndGlyphs">0.6</text><text x="657" y="395.97" textLength="32" lengthAdjust="spacingAndGlyphs">0.9</text><text x="657" y="345.50" textLength="32" lengthAdjust="spacingAndGlyphs">1.2</text><text x="657" y="295.02" textLength="32" lengthAdjust="spacingAndGlyphs">1.5</text><text x="657" y="244.55" textLength="32" lengthAdjust="spacingAndGlyphs">1.8</text><text x="657" y="194.07" textLength="32" lengthAdjust="spacingAndGlyphs">2.1</text><text x="657" y="143.60" textLength="32" lengthAdjust="spacingAndGlyphs">2.4</text><text x="657" y="93.12" textLength="32" lengthAdjust="spacingAndGlyphs">2.7</text>
<text x="348.3" y="593.3" text-anchor="middle" textLength="71" lengthAdjust="spacingAndGlyphs">X [pix]</text>
<text transform="translate(26.7,300.4) rotate(-90)" text-anchor="middle" textLength="69" lengthAdjust="spacingAndGlyphs">Y [pix]</text>
<text transform="translate(712.7,300.5) rotate(-90)" text-anchor="middle" textLength="101.5" lengthAdjust="spacingAndGlyphs">V-I [mag]</text>
</svg>
</body></html>
